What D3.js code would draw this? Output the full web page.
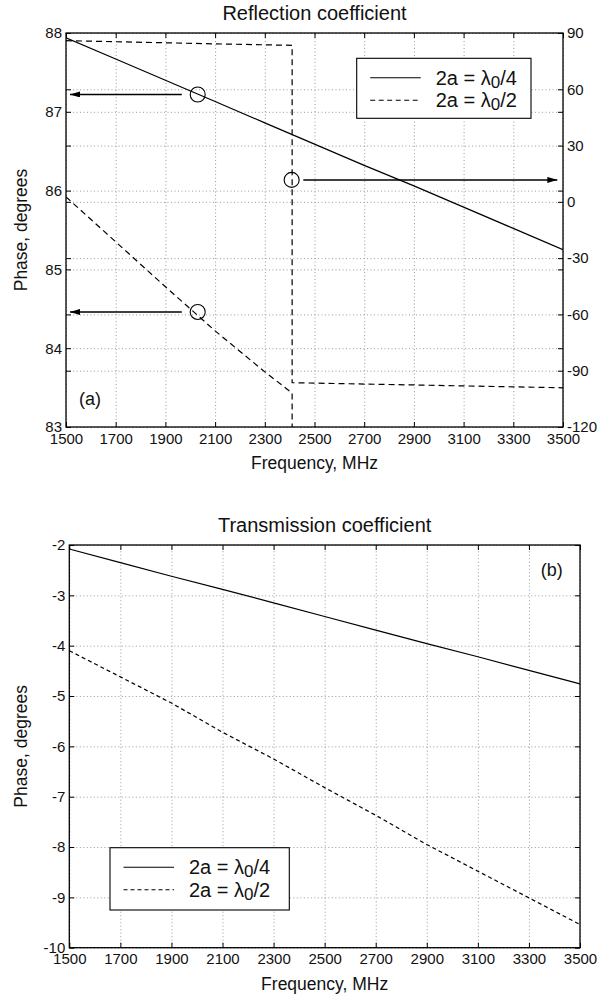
<!DOCTYPE html>
<html>
<head>
<meta charset="utf-8">
<script src="https://cdn.jsdelivr.net/npm/d3@7"></script>
<style>
body { margin: 0; background: #fff; }
svg { display: block; font-family: "Liberation Sans", Arial, Helvetica, sans-serif; }
.grid line { stroke: #9a9a9a; stroke-dasharray: 1,2.5; }
.grid path { display: none; }
.tk path { display: none; }
.tk line { stroke: #000; }
.tk text { font-size: 15px; fill: #111; font-family: "Liberation Sans", Arial, sans-serif; }
</style>
</head>
<body>
<div id="chart"></div>
<script>
// ticks
var freqTicks = [1500, 1700, 1900, 2100, 2300, 2500, 2700, 2900, 3100, 3300, 3500];
var phaseTicksA = [83, 84, 85, 86, 87, 88];
var phaseTicksA2 = [-120, -90, -60, -30, 0, 30, 60, 90];
var phaseTicksB = [-10, -9, -8, -7, -6, -5, -4, -3, -2];

// (a) reflection coefficient phase, degrees
var freq = [1500, 1700, 1900, 2100, 2300, 2500, 2700, 2900, 3100, 3300, 3500];
var reflQuarter = [87.94, 87.67, 87.40, 87.13, 86.86, 86.59, 86.32, 86.06, 85.79, 85.52, 85.25];
var reflHalfFreq = [1500, 1700, 1900, 2100, 2300, 2410, 2410, 2500, 2700, 2900, 3100, 3300, 3500];
var reflHalf = [85.92, 85.35, 84.78, 84.22, 83.70, 83.43, -96.4, -96.6, -97.1, -97.6, -98.1, -98.6, -99.1];

// (b) transmission coefficient phase, degrees
var transQuarter = [-2.08, -2.35, -2.62, -2.88, -3.15, -3.42, -3.69, -3.96, -4.22, -4.49, -4.76];
var transHalf = [-4.10, -4.62, -5.14, -5.72, -6.25, -6.82, -7.37, -7.95, -8.48, -9.01, -9.54];

// circled points with arrows pointing to their axis
var markFreq = [2030, 2030, 2408];
var markPhase = [87.22, 84.46, 11.7];
var markSide = ["left", "left", "right"];
var arrowFrom = [1966, 1966, 2455];
var arrowTo = [1516, 1516, 3477];

var legendNames = ["/4", "/2"];

// plain numbers, ascii minus
var fmt = function(d){ return String(d); };

var svg = d3.select("#chart").append("svg")
    .attr("width", 616).attr("height", 999);
svg.append("rect").attr("width", 616).attr("height", 999).attr("fill", "#fff");

var defs = svg.append("defs");
defs.append("marker").attr("id", "head")
    .attr("viewBox", "0 0 10 6").attr("refX", 10).attr("refY", 3)
    .attr("markerWidth", 10).attr("markerHeight", 6)
    .attr("markerUnits", "userSpaceOnUse").attr("orient", "auto")
  .append("path").attr("d", "M0,0L10,3L0,6Z").attr("fill", "#000");

function grid(g, d, x, yList) {
    g.append("g").attr("class", "grid")
        .attr("transform", "translate(0," + d.b + ")")
        .call(d3.axisBottom(x).tickValues(freqTicks).tickSize(-(d.b - d.t)).tickFormat(""));
    yList.forEach(function(s){
        g.append("g").attr("class", "grid")
            .attr("transform", "translate(" + d.l + ",0)")
            .call(d3.axisLeft(s[0]).tickValues(s[1]).tickSize(-(d.r - d.l)).tickFormat(""));
    });
}

function ticks(g, d, x, yL, tL, yR, tR) {
    g.append("g").attr("class", "tk").attr("transform", "translate(0," + d.b + ")")
        .call(d3.axisBottom(x).tickValues(freqTicks).tickSizeInner(-5).tickSizeOuter(0).tickPadding(6).tickFormat(fmt));
    g.append("g").attr("class", "tk").attr("transform", "translate(0," + d.t + ")")
        .call(d3.axisTop(x).tickValues(freqTicks).tickSizeInner(-5).tickSizeOuter(0).tickFormat(""));
    g.append("g").attr("class", "tk").attr("transform", "translate(" + d.l + ",0)")
        .call(d3.axisLeft(yL).tickValues(tL).tickSizeInner(-5).tickSizeOuter(0).tickPadding(4).tickFormat(fmt));
    g.append("g").attr("class", "tk").attr("transform", "translate(" + d.r + ",0)")
        .call(d3.axisRight(yL).tickValues(tL).tickSizeInner(-5).tickSizeOuter(0).tickFormat(""));
    if (yR) {
        g.append("g").attr("class", "tk").attr("transform", "translate(" + d.r + ",0)")
            .call(d3.axisRight(yR).tickValues(tR).tickSizeInner(-5).tickSizeOuter(0).tickPadding(4).tickFormat(fmt));
        g.append("g").attr("class", "tk").attr("transform", "translate(" + d.l + ",0)")
            .call(d3.axisLeft(yR).tickValues(tR).tickSizeInner(-5).tickSizeOuter(0).tickFormat(""));
    }
}

function labels(d, title, tag, tagX, tagY, tagAnchor) {
    var cx = (d.l + d.r) / 2;
    svg.append("text").attr("x", cx).attr("y", d.t - 13)
        .attr("text-anchor", "middle").attr("font-size", "20px").attr("fill", "#111").text(title);
    svg.append("text").attr("x", cx).attr("y", d.b + 42)
        .attr("text-anchor", "middle").attr("font-size", "17.5px").attr("fill", "#111").text("Frequency, MHz");
    svg.append("text")
        .attr("transform", "translate(26.5," + ((d.t + d.b) / 2) + ") rotate(-90)")
        .attr("text-anchor", "middle").attr("font-size", "17.5px").attr("fill", "#111").text("Phase, degrees");
    svg.append("text").attr("x", tagX).attr("y", tagY).attr("text-anchor", tagAnchor)
        .attr("font-size", "18px").attr("fill", "#111").text(tag);
}

function legend(bx, by, bw, bh, dashes) {
    var lg = svg.append("g");
    lg.append("rect").attr("x", bx).attr("y", by).attr("width", bw).attr("height", bh)
        .attr("fill", "#fff").attr("stroke", "#000").attr("stroke-width", 1.1);
    legendNames.forEach(function(n, i){
        var ly = by + 19.5 + i * 22.5;
        lg.append("line").attr("x1", bx + 13.5).attr("x2", bx + 64).attr("y1", ly).attr("y2", ly)
            .attr("stroke", "#000").attr("stroke-width", 1.1)
            .attr("stroke-dasharray", i === 0 ? null : dashes);
        var t = lg.append("text").attr("x", bx + 79).attr("y", ly + 7)
            .attr("font-size", "20px").attr("fill", "#111");
        t.append("tspan").text("2a = \u03bb");
        t.append("tspan").attr("font-size", "17px").attr("dy", 3).text("0");
        t.append("tspan").attr("dy", -3).text(n);
    });
}

// ---------- (a) Reflection coefficient ----------
var dA = {l: 66, r: 563, t: 33, b: 427};
var xA = d3.scaleLinear().domain([1500, 3500]).range([dA.l, dA.r]);
var yA = d3.scaleLinear().domain([83, 88]).range([dA.b, dA.t]);
var yA2 = d3.scaleLinear().domain([-120, 90]).range([dA.b, dA.t]);

var gA = svg.append("g");
grid(gA, dA, xA, [[yA, phaseTicksA], [yA2, phaseTicksA2]]);

defs.append("clipPath").attr("id", "clipA").append("rect")
    .attr("x", dA.l).attr("y", dA.t).attr("width", dA.r - dA.l).attr("height", dA.b - dA.t);

var lineA = d3.line().x(function(d){ return xA(d[0]); }).y(function(d){ return yA(d[1]); });
var lineA2 = d3.line().x(function(d){ return xA(d[0]); }).y(function(d){ return yA2(d[1]); });
var quarterA = freq.map(function(f, i){ return [f, reflQuarter[i]]; });
var halfA = reflHalfFreq.map(function(f, i){ return [f, reflHalf[i]]; });

var plotA = gA.append("g").attr("clip-path", "url(#clipA)");
plotA.append("path").attr("d", lineA(quarterA)).attr("fill", "none")
    .attr("stroke", "#000").attr("stroke-width", 1.2);
plotA.append("path").attr("d", lineA(halfA)).attr("fill", "none")
    .attr("stroke", "#000").attr("stroke-width", 1.2).attr("stroke-dasharray", "6,4");
plotA.append("path").attr("d", lineA2(halfA)).attr("fill", "none")
    .attr("stroke", "#000").attr("stroke-width", 1.2).attr("stroke-dasharray", "6,4");

ticks(gA, dA, xA, yA, phaseTicksA, yA2, phaseTicksA2);
gA.append("rect").attr("x", dA.l).attr("y", dA.t).attr("width", dA.r - dA.l).attr("height", dA.b - dA.t)
    .attr("fill", "none").attr("stroke", "#000").attr("stroke-width", 1.3);

markFreq.forEach(function(f, i){
    var ys = markSide[i] === "left" ? yA : yA2;
    gA.append("circle").attr("cx", xA(f)).attr("cy", ys(markPhase[i])).attr("r", 7.5)
        .attr("fill", "none").attr("stroke", "#000").attr("stroke-width", 1.1);
    gA.append("line").attr("x1", xA(arrowFrom[i])).attr("x2", xA(arrowTo[i]))
        .attr("y1", ys(markPhase[i])).attr("y2", ys(markPhase[i]))
        .attr("stroke", "#000").attr("stroke-width", 1.5).attr("marker-end", "url(#head)");
});

legend(356.7, 58.3, 174.3, 60, "5,3.5");
labels(dA, "Reflection coefficient", "(a)", 79, 405, "start");

// ---------- (b) Transmission coefficient ----------
var dB = {l: 69.3, r: 580, t: 545, b: 947.7};
var xB = d3.scaleLinear().domain([1500, 3500]).range([dB.l, dB.r]);
var yB = d3.scaleLinear().domain([-10, -2]).range([dB.b, dB.t]);

var gB = svg.append("g");
grid(gB, dB, xB, [[yB, phaseTicksB]]);

var lineB = d3.line().x(function(d, i){ return xB(freq[i]); }).y(function(d){ return yB(d); });
gB.append("path").attr("d", lineB(transQuarter)).attr("fill", "none")
    .attr("stroke", "#000").attr("stroke-width", 1.2);
gB.append("path").attr("d", lineB(transHalf)).attr("fill", "none")
    .attr("stroke", "#000").attr("stroke-width", 1.2).attr("stroke-dasharray", "4,3");

ticks(gB, dB, xB, yB, phaseTicksB);
gB.append("rect").attr("x", dB.l).attr("y", dB.t).attr("width", dB.r - dB.l).attr("height", dB.b - dB.t)
    .attr("fill", "none").attr("stroke", "#000").attr("stroke-width", 1.3);

legend(110, 847.7, 179.3, 62.3, "4,3");
labels(dB, "Transmission coefficient", "(b)", 562.7, 576, "end");
</script>
</body>
</html>
